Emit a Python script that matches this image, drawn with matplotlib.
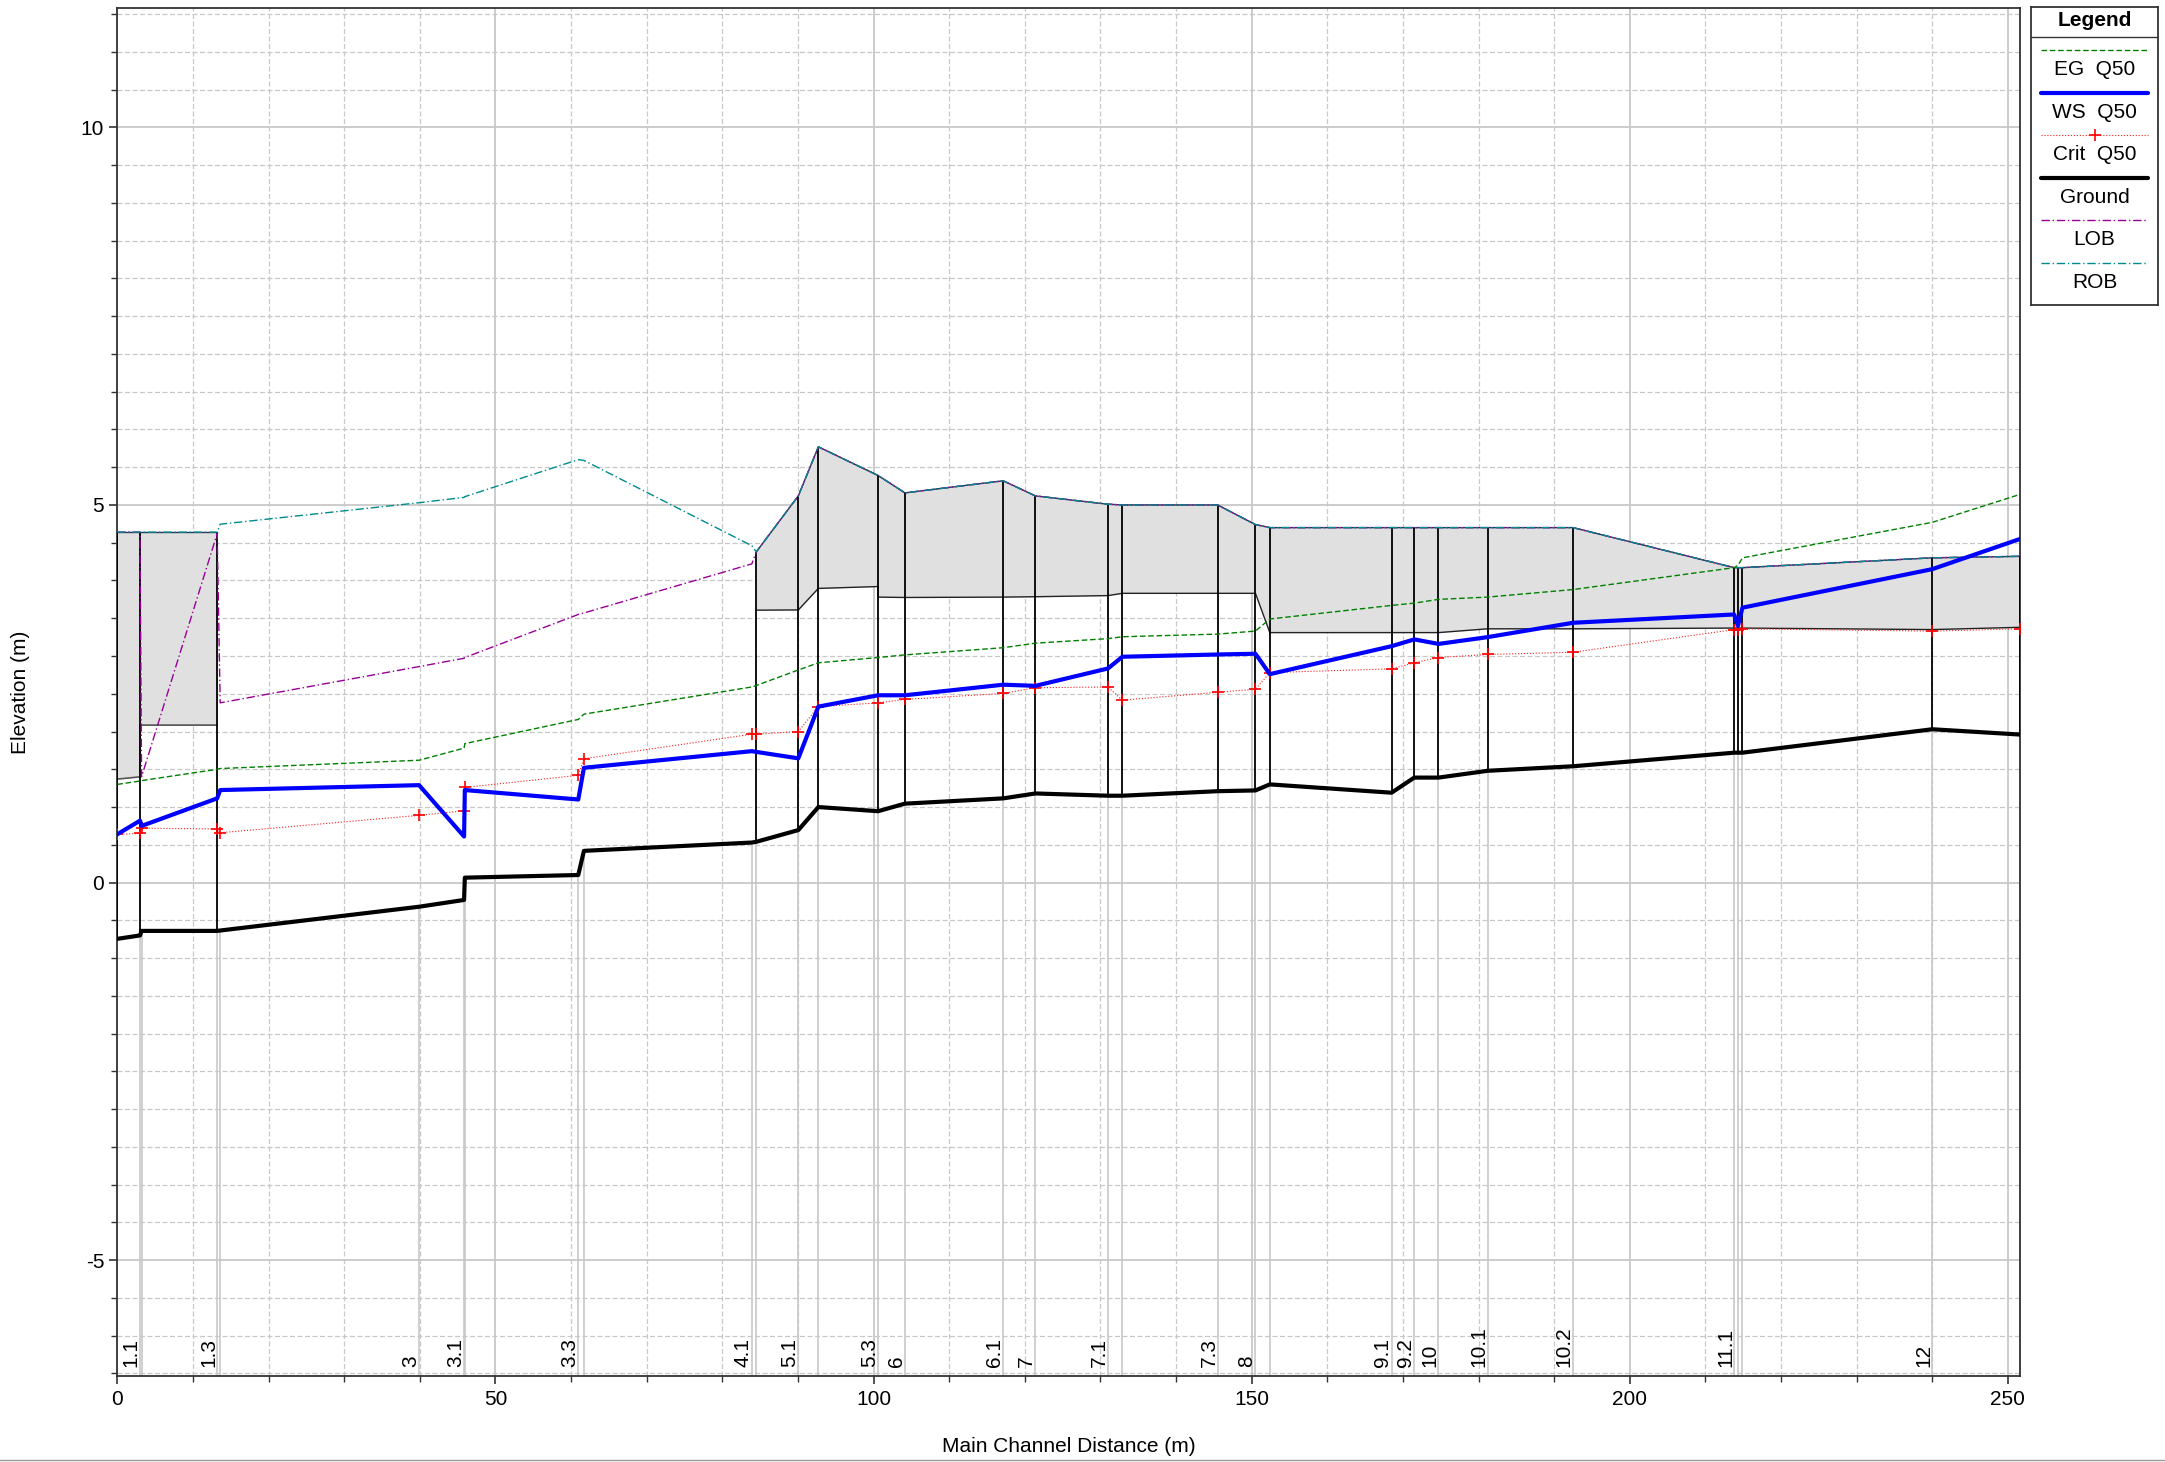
import numpy as np
import matplotlib.pyplot as plt
from matplotlib.lines import Line2D
from matplotlib.ticker import MultipleLocator

plt.rcParams['font.family'] = ['Liberation Sans', 'DejaVu Sans']
plt.rcParams['font.size'] = 15
plt.rcParams['axes.unicode_minus'] = False

# Estaciones del perfil (distancia por el canal principal, m)
rs_dist = [0.0, 3.0, 3.2, 13.2, 13.6, 39.9, 45.85, 45.95, 60.95, 61.7,
           83.9, 84.5, 90.05, 92.7, 100.6, 104.15, 117.15, 121.4, 131.0, 132.9,
           145.5, 150.5, 152.4, 168.5, 171.5, 174.7, 181.2, 192.5, 213.8, 214.3,
           214.9, 240.0, 251.6]
rs_name = ['', '1.1', '', '1.3', '', '3', '3.1', '', '3.3', '',
           '4.1', '', '5.1', '', '5.3', '6', '6.1', '7', '7.1', '',
           '7.3', '8', '', '9.1', '9.2', '10', '10.1', '10.2', '11.1', '',
           '', '12', '']
# 1 = seccion con tablero (linea vertical negra)
structure = [1, 1, 0, 1, 0, 0, 0, 0, 0, 0,
             0, 1, 1, 1, 1, 1, 1, 1, 1, 1,
             1, 1, 1, 1, 1, 1, 1, 1, 1, 1,
             1, 1, 1]

ground = [-0.745, -0.70, -0.64, -0.64, -0.635, -0.32, -0.23, 0.065, 0.10, 0.42,
          0.53, 0.54, 0.695, 1.00, 0.945, 1.045, 1.115, 1.18, 1.15, 1.15,
          1.21, 1.22, 1.30, 1.19, 1.39, 1.39, 1.48, 1.54, 1.72, 1.72,
          1.72, 2.03, 1.96]
ws_q50 = [0.64, 0.82, 0.75, 1.115, 1.225, 1.29, 0.61, 1.225, 1.10, 1.52,
          1.74, 1.73, 1.645, 2.33, 2.48, 2.48, 2.62, 2.605, 2.835, 2.99,
          3.02, 3.03, 2.76, 3.13, 3.22, 3.16, 3.25, 3.44, 3.55, 3.40,
          3.64, 4.15, 4.55]
crit_q50 = [0.64, 0.65, 0.72, 0.71, 0.66, 0.89, 0.95, 1.26, 1.42, 1.64,
            1.965, 1.965, 2.0, 2.33, 2.38, 2.425, 2.505, 2.58, 2.59, 2.415,
            2.52, 2.56, 2.78, 2.83, 2.91, 2.98, 3.02, 3.05, 3.35, 3.35,
            3.36, 3.33, 3.36]
eg_q50 = [1.30, 1.345, 1.35, 1.50, 1.51, 1.62, 1.78, 1.84, 2.16, 2.23,
          2.59, 2.61, 2.815, 2.91, 2.98, 3.015, 3.11, 3.17, 3.23, 3.255,
          3.29, 3.33, 3.49, 3.67, 3.70, 3.75, 3.78, 3.88, 4.17, 4.20,
          4.30, 4.77, 5.14]
lob = [4.64, 4.64, 1.40, 4.62, 2.38, 2.86, 2.97, 2.98, 3.55, 3.57,
       4.22, 4.38, 5.12, 5.77, 5.39, 5.16, 5.32, 5.12, 5.01, 5.00,
       5.00, 4.74, 4.70, 4.70, 4.70, 4.70, 4.70, 4.70, 4.17, 4.17,
       4.17, 4.30, 4.32]
rob = [4.64, 4.64, 4.64, 4.64, 4.745, 5.03, 5.10, 5.11, 5.60, 5.59,
       4.46, 4.38, 5.12, 5.77, 5.39, 5.16, 5.32, 5.12, 5.01, 5.00,
       5.00, 4.74, 4.70, 4.70, 4.70, 4.70, 4.70, 4.70, 4.17, 4.17,
       4.17, 4.30, 4.32]

# Tableros (zona gris): cota superior e inferior
deck1_x = [0.0, 3.0, 3.0, 13.2]
deck1_hi = [4.64, 4.64, 4.64, 4.64]
deck1_lo = [1.37, 1.40, 2.085, 2.085]

deck2_x = [84.5, 90.05, 92.7, 100.6, 100.6, 104.15, 117.15, 121.4, 131.0, 132.9,
           145.5, 150.5, 152.4, 168.5, 171.5, 174.7, 181.2, 192.5, 213.8, 214.3,
           214.9, 240.0, 251.6]
deck2_hi = [4.38, 5.12, 5.77, 5.39, 5.39, 5.16, 5.32, 5.12, 5.01, 5.00,
            5.00, 4.74, 4.70, 4.70, 4.70, 4.70, 4.70, 4.70, 4.17, 4.17,
            4.17, 4.30, 4.32]
deck2_lo = [3.607, 3.61, 3.895, 3.92, 3.78, 3.775, 3.78, 3.785, 3.80, 3.83,
            3.83, 3.83, 3.31, 3.31, 3.31, 3.31, 3.36, 3.36, 3.37, 3.37,
            3.37, 3.35, 3.38]

x = np.array(rs_dist)
gr = np.array(ground)
top = np.maximum(lob, rob)

fig = plt.figure(figsize=(21.65, 14.62), dpi=100)
ax = fig.add_axes([0.0542, 0.0585, 0.879, 0.936])
ax.set_xlim(0, 251.65)
ax.set_ylim(-6.54, 11.58)

ax.xaxis.set_major_locator(MultipleLocator(50))
ax.xaxis.set_minor_locator(MultipleLocator(10))
ax.yaxis.set_major_locator(MultipleLocator(5))
ax.yaxis.set_minor_locator(MultipleLocator(0.5))
ax.grid(which='major', color='#c8c8c8', lw=1.3, ls='-', zorder=0)
ax.grid(which='minor', color='#c8c8c8', lw=0.9, ls=(0, (4, 2)), zorder=0)
ax.set_axisbelow(True)
ax.tick_params(which='major', direction='out', length=6, width=1.2, colors='#333333',
               labelcolor='black', labelsize=15)
ax.tick_params(which='minor', direction='out', length=4, width=1.0, colors='#333333')
for s in ax.spines.values():
    s.set_color('#333333')
    s.set_linewidth(1.3)

# lineas de estacion bajo el terreno
ax.vlines(x, -6.54, gr, colors='#c8c8c8', lw=1.2, zorder=1)

# tableros
ax.fill_between(deck1_x, deck1_lo, deck1_hi, color='#e0e0e0', lw=0, zorder=2)
ax.fill_between(deck2_x, deck2_lo, deck2_hi, color='#e0e0e0', lw=0, zorder=2)
ax.plot(deck1_x, deck1_lo, color='#555555', lw=1.2, zorder=3)
ax.plot(deck2_x, deck2_lo, color='#222222', lw=1.0, zorder=3)
ax.plot(deck1_x, deck1_hi, color='#303050', lw=1.0, zorder=3)
ax.plot(deck2_x, deck2_hi, color='#303050', lw=1.0, zorder=3)

# lineas verticales negras en secciones con estructura
st = np.array(structure) == 1
ax.vlines(x[st], gr[st], top[st], colors='black', lw=1.3, zorder=3)

ax.plot(x, lob, color='#990099', lw=1.0, ls=(0, (6, 2, 1, 2)), zorder=4)
ax.plot(x, rob, color='#008b8b', lw=1.0, ls=(0, (6, 2, 1, 2)), zorder=4)
ax.plot(x, eg_q50, color='#008000', lw=1.0, ls=(0, (4, 2)), zorder=5)
ax.plot(x, crit_q50, color='#ff2020', lw=0.8, ls=':', marker='+', ms=8, mew=1.2,
        mec='#ff0000', zorder=6)
ax.plot(x, ws_q50, color='#0000ff', lw=3.0, zorder=7)
ax.plot(x, ground, color='black', lw=3.0, zorder=8)

# nombres de estaciones
for xi, name in zip(rs_dist, rs_name):
    if name:
        ax.text(xi + 0.1, -6.41, name, rotation=90, ha='right', va='bottom',
                fontsize=15, zorder=9)

ax.set_xlabel('Main Channel Distance (m)', fontsize=15)
ax.set_ylabel('Elevation (m)', fontsize=15)
ax.xaxis.set_label_coords(0.5, -0.044)
ax.yaxis.set_label_coords(-0.046, 0.5)

# leyenda estilo HEC-RAS
leg_names = ['EG  Q50', 'WS  Q50', 'Crit  Q50', 'Ground', 'LOB', 'ROB']
leg_styles = [dict(color='#008000', lw=1.0, ls=(0, (4, 2))),
              dict(color='#0000ff', lw=3.0),
              dict(color='#ff2020', lw=0.8, ls=':'),
              dict(color='black', lw=3.0),
              dict(color='#990099', lw=1.0, ls=(0, (6, 2, 1, 2))),
              dict(color='#008b8b', lw=1.0, ls=(0, (6, 2, 1, 2)))]
lax = fig.add_axes([2031 / 2165, 1 - 305 / 1462, 127 / 2165, 298 / 1462])
lax.set_xlim(2031, 2158)
lax.set_ylim(305, 7)
lax.set_xticks([])
lax.set_yticks([])
for s in lax.spines.values():
    s.set_color('#333333')
    s.set_linewidth(1.3)
lax.text(2094.5, 21, 'Legend', ha='center', va='center', fontsize=15, fontweight='bold')
lax.axhline(37, color='#333333', lw=1.0)
for i, (name, sty) in enumerate(zip(leg_names, leg_styles)):
    yl = 50 + 42.6 * i
    lax.plot([2041, 2148], [yl, yl], solid_capstyle='round', **sty)
    if name.startswith('Crit'):
        lax.plot([2094.5], [yl], marker='+', ms=8, mew=1.2, color='#ff0000')
    lax.text(2094.5, yl + 19.5, name, ha='center', va='center', fontsize=15)

fig.add_artist(Line2D([0, 1], [0.0015, 0.0015], color='#999999', lw=1.0))

fig.savefig('out.png', dpi=100)
